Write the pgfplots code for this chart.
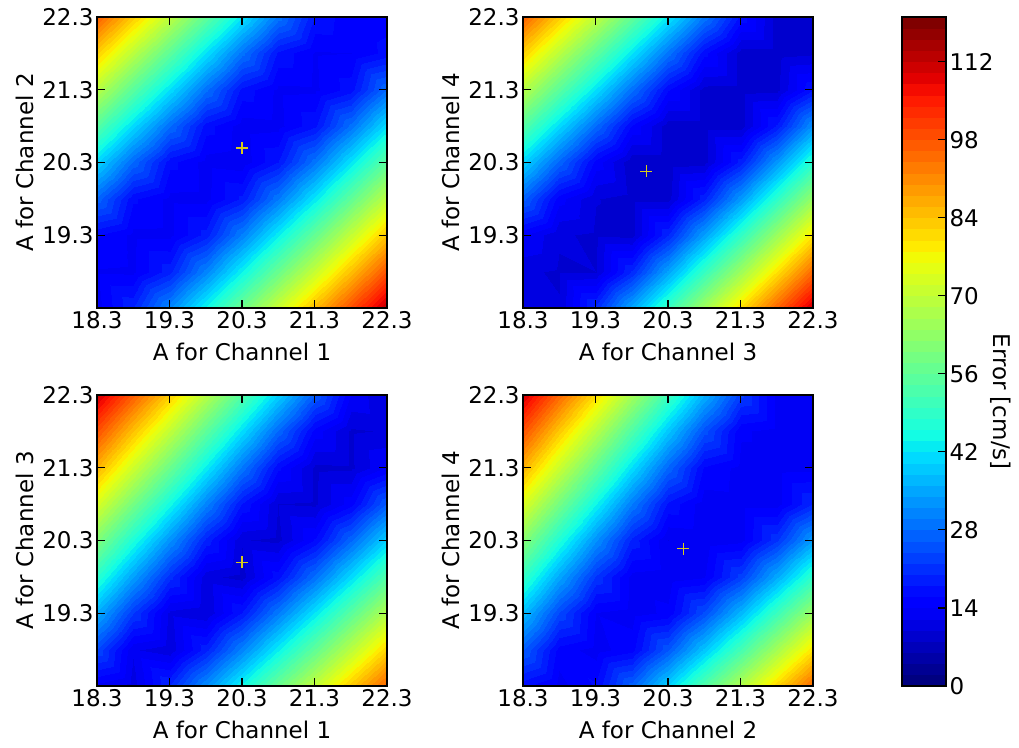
\documentclass[border=0pt]{standalone}
\usepackage{fontspec}
\setmainfont{DejaVu Sans}
\usepackage{pgfplots}
\pgfplotsset{compat=1.18}

\newcommand\fs{\fontsize{23bp}{28bp}\selectfont}
\definecolor{pluscol}{rgb}{0.85,0.80,0.10}

\pgfplotsset{
  colormap={mpljet}{rgb(0pt)=(0,0,0.5); rgb(110pt)=(0,0,1); rgb(125pt)=(0,0,1);
    rgb(340pt)=(0,0.86,1); rgb(350pt)=(0,0.9,0.968); rgb(375pt)=(0.081,1,0.887);
    rgb(640pt)=(0.935,1,0.032); rgb(650pt)=(0.968,0.963,0); rgb(660pt)=(1,0.926,0);
    rgb(890pt)=(1,0.074,0); rgb(910pt)=(0.909,0,0); rgb(1000pt)=(0.5,0,0)},
  errlevels/.style={contour filled={levels={0,2,4,6,8,10,12,14,16,18,20,22,24,26,28,30,32,34,36,38,40,42,44,46,48,50,52,54,56,58,60,62,64,66,68,70,72,74,76,78,80,82,84,86,88,90,92,94,96,98,100,102,104,106,108,110,112,114,116,118,120}}},
  % filled error surface (no decorations)
  mapfill/.style={
    scale only axis, width=290bp, height=291bp,
    anchor=south west, view={0}{90}, hide axis,
    xmin=18.3, xmax=22.3, ymin=18.3, ymax=22.3,
    point meta min=0, point meta max=120,
    colormap name=mpljet,
  },
  % frame, ticks and labels drawn over the surface
  mapframe/.style={
    scale only axis, width=290bp, height=291bp,
    anchor=south west,
    xmin=18.3, xmax=22.3, ymin=18.3, ymax=22.3,
    xtick={18.3,19.3,20.3,21.3,22.3},
    xticklabels={18.3,19.3,20.3,21.3,22.3},
    ytick={19.3,20.3,21.3,22.3},
    yticklabels={19.3,20.3,21.3,22.3},
    xtick pos=both, ytick pos=both,
    xticklabel pos=lower, yticklabel pos=left,
    tick align=inside,
    major tick length=8bp,
    tick style={black, line width=1.2bp},
    axis line style={line width=1.2bp},
    tick label style={font=\fs},
    every axis x label/.style={at={(axis description cs:0.5,-0.151)}, anchor=center, font=\fs},
    every axis y label/.style={at={(axis description cs:-0.248,0.5)}, anchor=center, rotate=90, font=\fs},
  },
  plusmark/.style={only marks, mark=+, mark size=6bp, pluscol, mark options={line width=1.2bp}},
}

\begin{document}
\begin{tikzpicture}
\useasboundingbox (0,0) rectangle (1019bp,748bp);

% Channel 1 vs Channel 2
\begin{axis}[mapfill, at={(97bp,440bp)}]
\addplot3[errlevels, point meta=\thisrow{e}] table[x=x,y=y,z=e] {
x y e
18.3 18.3 13.1
18.8 18.3 19.9
19.3 18.3 31.7
19.8 18.3 44.7
20.3 18.3 58.1
20.8 18.3 71.6
21.3 18.3 85.3
21.8 18.3 99.0
22.3 18.3 112.8

18.3 18.8 13.8
18.8 18.8 13.6
19.3 18.8 19.4
19.8 18.8 31.1
20.3 18.8 44.1
20.8 18.8 57.5
21.3 18.8 71.0
21.8 18.8 84.7
22.3 18.8 98.4

18.3 19.3 16.2
18.8 19.3 13.5
19.3 19.3 13.4
19.8 19.3 18.9
20.3 19.3 30.5
20.8 19.3 43.4
21.3 19.3 56.8
21.8 19.3 70.4
22.3 19.3 84.0

18.3 19.8 27.3
18.8 19.8 16.4
19.3 19.8 13.4
19.8 19.8 13.3
20.3 19.8 18.5
20.8 19.8 29.9
21.3 19.8 42.8
21.8 19.8 56.2
22.3 19.8 69.7

18.3 20.3 40.5
18.8 20.3 27.7
19.3 20.3 16.7
19.8 20.3 13.2
20.3 20.3 12.6
20.8 20.3 18.0
21.3 20.3 29.3
21.8 20.3 42.2
22.3 20.3 55.5

18.3 20.8 54.4
18.8 20.8 41.0
19.3 20.8 28.1
19.8 20.8 17.0
20.3 20.8 12.9
20.8 20.8 13.3
21.3 20.8 17.6
21.8 20.8 28.8
22.3 20.8 41.6

18.3 21.3 68.5
18.8 21.3 54.8
19.3 21.3 41.4
19.8 21.3 28.5
20.3 21.3 17.3
20.8 21.3 13.5
21.3 21.3 13.6
21.8 21.3 17.1
22.3 21.3 28.2

18.3 21.8 82.6
18.8 21.8 68.9
19.3 21.8 55.3
19.8 21.8 41.8
20.3 21.8 28.9
20.8 21.8 17.6
21.3 21.8 13.8
21.8 21.8 14.0
22.3 21.8 16.7

18.3 22.3 96.9
18.8 22.3 83.1
19.3 22.3 69.3
19.8 22.3 55.7
20.3 22.3 42.2
20.8 22.3 29.3
21.3 22.3 17.9
21.8 22.3 14.4
22.3 22.3 15.2
};
\end{axis}
\begin{axis}[mapframe, at={(97bp,440bp)}, xlabel={A for Channel 1}, ylabel={A for Channel 2}]
\addplot[plusmark] coordinates {(20.3,20.5)};
\end{axis}

% Channel 3 vs Channel 4
\begin{axis}[mapfill, at={(523bp,440bp)}]
\addplot3[errlevels, point meta=\thisrow{e}] table[x=x,y=y,z=e] {
x y e
18.3 18.3 10.6
18.8 18.3 10.2
19.3 18.3 20.8
19.8 18.3 35.4
20.3 18.3 50.4
20.8 18.3 65.6
21.3 18.3 80.9
21.8 18.3 96.2
22.3 18.3 111.6

18.3 18.8 10.4
18.8 18.8 9.7
19.3 18.8 10.0
19.8 18.8 20.3
20.3 18.8 34.8
20.8 18.8 49.9
21.3 18.8 65.1
21.8 18.8 80.4
22.3 18.8 95.7

18.3 19.3 14.3
18.8 19.3 10.3
19.3 19.3 9.6
19.8 19.3 9.3
20.3 19.3 19.9
20.8 19.3 34.3
21.3 19.3 49.3
21.8 19.3 64.5
22.3 19.3 79.8

18.3 19.8 26.8
18.8 19.8 14.8
19.3 19.8 10.1
19.8 19.8 9.2
20.3 19.8 9.2
20.8 19.8 19.4
21.3 19.8 33.8
21.8 19.8 48.8
22.3 19.8 64.0

18.3 20.3 40.4
18.8 20.3 27.4
19.3 20.3 15.2
19.8 20.3 8.4
20.3 20.3 8.6
20.8 20.3 9.1
21.3 20.3 18.9
21.8 20.3 33.2
22.3 20.3 48.2

18.3 20.8 54.3
18.8 20.8 41.0
19.3 20.8 27.9
19.8 20.8 15.7
20.3 20.8 8.8
20.8 20.8 9.0
21.3 20.8 9.0
21.8 20.8 18.4
22.3 20.8 32.7

18.3 21.3 68.3
18.8 21.3 54.9
19.3 21.3 41.6
19.8 21.3 28.5
20.3 21.3 16.2
20.8 21.3 9.2
21.3 21.3 9.1
21.8 21.3 9.5
22.3 21.3 17.9

18.3 21.8 82.3
18.8 21.8 68.9
19.3 21.8 55.5
19.8 21.8 42.2
20.3 21.8 29.1
20.8 21.8 16.7
21.3 21.8 9.0
21.8 21.8 9.0
22.3 21.8 9.6

18.3 22.3 96.4
18.8 22.3 82.9
19.3 22.3 69.5
19.8 22.3 56.1
20.3 22.3 42.8
20.8 22.3 29.6
21.3 22.3 17.2
21.8 22.3 9.1
22.3 22.3 8.9
};
\end{axis}
\begin{axis}[mapframe, at={(523bp,440bp)}, xlabel={A for Channel 3}, ylabel={A for Channel 4}]
\addplot[plusmark] coordinates {(20.0,20.18)};
\end{axis}

% Channel 1 vs Channel 3
\begin{axis}[mapfill, at={(97bp,62bp)}]
\addplot3[errlevels, point meta=\thisrow{e}] table[x=x,y=y,z=e] {
x y e
18.3 18.3 13.3
18.8 18.3 11.0
19.3 18.3 20.3
19.8 18.3 32.3
20.3 18.3 44.8
20.8 18.3 57.6
21.3 18.3 70.4
21.8 18.3 83.3
22.3 18.3 96.2

18.3 18.8 23.8
18.8 18.8 12.3
19.3 18.8 10.6
19.8 18.8 19.3
20.3 18.8 31.1
20.8 18.8 43.6
21.3 18.8 56.4
21.8 18.8 69.2
22.3 18.8 82.1

18.3 19.3 35.7
18.8 19.3 22.2
19.3 19.3 11.4
19.8 19.3 10.2
20.3 19.3 18.2
20.8 19.3 29.9
21.3 19.3 42.4
21.8 19.3 55.1
22.3 19.3 67.9

18.3 19.8 48.1
18.8 19.8 34.1
19.3 19.8 20.7
19.8 19.8 10.7
20.3 19.8 9.2
20.8 19.8 17.2
21.3 19.8 28.7
21.8 19.8 41.2
22.3 19.8 53.9

18.3 20.3 60.6
18.8 20.3 46.4
19.3 20.3 32.5
19.8 20.3 19.3
20.3 20.3 10.2
20.8 20.3 9.4
21.3 20.3 16.2
21.8 20.3 27.6
22.3 20.3 40.0

18.3 20.8 73.2
18.8 20.8 59.0
19.3 20.8 44.8
19.8 20.8 30.9
20.3 20.8 17.8
20.8 20.8 10.0
21.3 20.8 9.6
21.8 20.8 15.2
22.3 20.8 26.4

18.3 21.3 85.9
18.8 21.3 71.6
19.3 21.3 57.3
19.8 21.3 43.1
20.3 21.3 29.3
20.8 21.3 16.4
21.3 21.3 9.5
21.8 21.3 9.6
22.3 21.3 14.3

18.3 21.8 98.6
18.8 21.8 84.2
19.3 21.8 69.9
19.8 21.8 55.6
20.3 21.8 41.5
20.8 21.8 27.7
21.3 21.8 15.1
21.8 21.8 9.7
22.3 21.8 10.2

18.3 22.3 111.3
18.8 22.3 96.9
19.3 22.3 82.5
19.8 22.3 68.2
20.3 22.3 53.9
20.8 22.3 39.8
21.3 22.3 26.1
21.8 22.3 13.9
22.3 22.3 9.8
};
\end{axis}
\begin{axis}[mapframe, at={(97bp,62bp)}, xlabel={A for Channel 1}, ylabel={A for Channel 3}]
\addplot[plusmark] coordinates {(20.3,20.0)};
\end{axis}

% Channel 2 vs Channel 4
\begin{axis}[mapfill, at={(523bp,62bp)}]
\addplot3[errlevels, point meta=\thisrow{e}] table[x=x,y=y,z=e] {
x y e
18.3 18.3 16.6
18.8 18.3 13.2
19.3 18.3 16.3
19.8 18.3 27.3
20.3 18.3 40.3
20.8 18.3 54.0
21.3 18.3 67.9
21.8 18.3 81.8
22.3 18.3 95.9

18.3 18.8 26.3
18.8 18.8 15.1
19.3 18.8 13.1
19.8 18.8 15.3
20.3 18.8 25.8
20.8 18.8 38.7
21.3 18.8 52.3
21.8 18.8 66.2
22.3 18.8 80.2

18.3 19.3 37.6
18.8 19.3 23.9
19.3 19.3 13.9
19.8 19.3 13.0
20.3 19.3 14.5
20.8 19.3 24.4
21.3 19.3 37.1
21.8 19.3 50.7
22.3 19.3 64.5

18.3 19.8 49.5
18.8 19.8 35.0
19.3 19.8 21.6
19.8 19.8 13.2
20.3 19.8 12.6
20.8 19.8 13.8
21.3 19.8 22.9
21.8 19.8 35.6
22.3 19.8 49.1

18.3 20.3 61.6
18.8 20.3 46.8
19.3 20.3 32.4
19.8 20.3 19.4
20.3 20.3 12.0
20.8 20.3 12.4
21.3 20.3 13.3
21.8 20.3 21.6
22.3 20.3 34.0

18.3 20.8 73.8
18.8 20.8 58.9
19.3 20.8 44.1
19.8 20.8 29.9
20.3 20.8 17.5
20.8 20.8 12.8
21.3 20.8 13.1
21.8 20.8 13.1
22.3 20.8 20.2

18.3 21.3 86.1
18.8 21.3 71.1
19.3 21.3 56.1
19.8 21.3 41.4
20.3 21.3 27.4
20.8 21.3 15.7
21.3 21.3 13.3
21.8 21.3 13.2
22.3 21.3 13.4

18.3 21.8 98.4
18.8 21.8 83.3
19.3 21.8 68.3
19.8 21.8 53.4
20.3 21.8 38.8
20.8 21.8 25.0
21.3 21.8 14.3
21.8 21.8 13.3
22.3 21.8 13.5

18.3 22.3 110.8
18.8 22.3 95.6
19.3 22.3 80.6
19.8 22.3 65.6
20.3 22.3 50.7
20.8 22.3 36.2
21.3 22.3 22.6
21.8 22.3 13.4
22.3 22.3 13.6
};
\end{axis}
\begin{axis}[mapframe, at={(523bp,62bp)}, xlabel={A for Channel 2}, ylabel={A for Channel 4}]
\addplot[plusmark] coordinates {(20.51,20.19)};
\end{axis}

% Colour scale: filled bands, then frame and ticks on top
\begin{axis}[
  scale only axis, width=44bp, height=669bp,
  at={(902bp,62bp)}, anchor=south west,
  view={0}{90}, hide axis,
  xmin=0, xmax=1, ymin=0, ymax=120,
  point meta min=0, point meta max=120,
  colormap name=mpljet,
]
\addplot3[errlevels, point meta=\thisrow{e}] table[x=x,y=y,z=e] {
x y e
0 0 0
1 0 0

0 120 120
1 120 120
};
\end{axis}
\begin{axis}[
  scale only axis, width=44bp, height=669bp,
  at={(902bp,62bp)}, anchor=south west,
  xmin=0, xmax=1, ymin=0, ymax=120,
  xtick=\empty,
  ytick={0,14,28,42,56,70,84,98,112},
  yticklabels={0,14,28,42,56,70,84,98,112},
  ytick pos=right, yticklabel pos=right,
  tick align=inside, major tick length=8bp,
  tick style={black, line width=1.2bp},
  axis line style={line width=1.2bp},
  tick label style={font=\fs},
  every axis y label/.style={at={(axis description cs:2.25,0.425)}, anchor=center, rotate=-90, font=\fs},
  ylabel={Error [cm/s]},
]
\end{axis}
\end{tikzpicture}
\end{document}
